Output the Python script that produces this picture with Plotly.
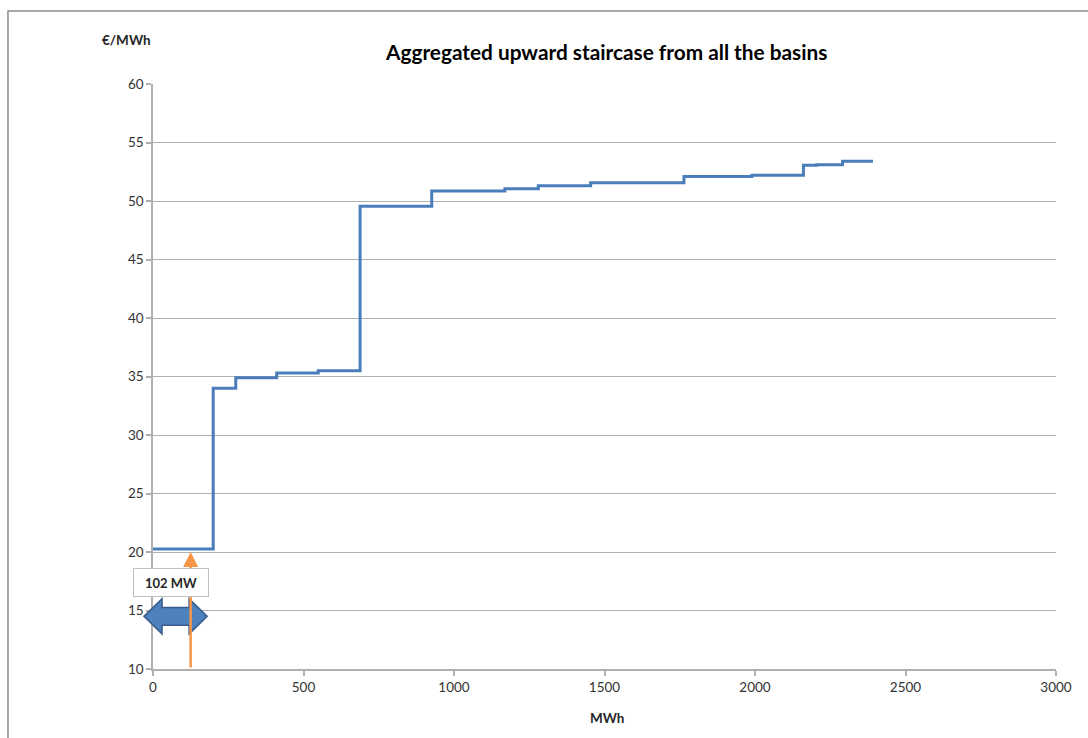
import plotly.graph_objects as go

# Staircase breakpoints (MWh) and the price of each step (€/MWh)
mwh = [0, 200, 275, 411, 549, 688, 926, 1169, 1280, 1454, 1764, 1990, 2161, 2205, 2291, 2392]
price = [20.25, 34.0, 34.9, 35.3, 35.5, 49.55, 50.85, 51.05, 51.3, 51.55, 52.1, 52.2, 53.05, 53.1, 53.4, 53.4]

x_ticks = [0, 500, 1000, 1500, 2000, 2500, 3000]
y_ticks = [10, 15, 20, 25, 30, 35, 40, 45, 50, 55, 60]

X_RANGE = [0, 3000]
Y_RANGE = [10, 60]

# Callout: requested volume marker and its label
marker_mwh = 125
marker_label = "102 MW"
label_pos = (60, 17.4)

# Double-headed block arrow (data units)
arrow_x = (-30, 180)
arrow_head = 60
arrow_y = 14.5
arrow_half_head = 1.5
arrow_half_shaft = 0.75

BLUE = "#4A7EBB"
ORANGE = "#F79646"
GRID = "#B0B0B0"
FONT = "Lato, 'Open Sans', sans-serif"


def to_paper(x, y):
    px = (x - X_RANGE[0]) / (X_RANGE[1] - X_RANGE[0])
    py = (y - Y_RANGE[0]) / (Y_RANGE[1] - Y_RANGE[0])
    return px, py


fig = go.Figure()
fig.add_trace(go.Scatter(
    x=mwh, y=price, mode="lines", line=dict(color=BLUE, width=3, shape="hv"),
    hoverinfo="x+y", showlegend=False,
))

# Block arrow outline built from the data-unit geometry
xl, xr = arrow_x
pts = [
    (xl, arrow_y),
    (xl + arrow_head, arrow_y + arrow_half_head),
    (xl + arrow_head, arrow_y + arrow_half_shaft),
    (xr - arrow_head, arrow_y + arrow_half_shaft),
    (xr - arrow_head, arrow_y + arrow_half_head),
    (xr, arrow_y),
    (xr - arrow_head, arrow_y - arrow_half_head),
    (xr - arrow_head, arrow_y - arrow_half_shaft),
    (xl + arrow_head, arrow_y - arrow_half_shaft),
    (xl + arrow_head, arrow_y - arrow_half_head),
]
path = "M " + " L ".join("%.5f,%.5f" % to_paper(px, py) for px, py in pts) + " Z"

shapes = [
    # outer chart frame
    dict(type="rect", xref="paper", yref="paper", x0=-0.1606, x1=1.06, y0=-0.16, y1=1.1248,
         line=dict(color="#8C8C8C", width=1.5), fillcolor="rgba(0,0,0,0)", layer="below"),
    dict(type="path", xref="paper", yref="paper", path=path,
         fillcolor="#4F81BD", line=dict(color="#385D8A", width=1.5)),
]

annotations = [
    dict(x=marker_mwh, y=20, ax=marker_mwh, ay=Y_RANGE[0], xref="x", yref="y",
         axref="x", ayref="y", text="", showarrow=True, arrowhead=2, arrowsize=1.2,
         arrowwidth=2.5, arrowcolor=ORANGE),
    dict(x=label_pos[0], y=label_pos[1], xref="x", yref="y", text="<b>" + marker_label + "</b>",
         showarrow=False, font=dict(family=FONT, size=13, color="#262626"),
         bgcolor="white", bordercolor="#BFBFBF", borderwidth=1, width=72, height=25),
    dict(x=-0.029, y=1.075, xref="paper", yref="paper", text="<b>€/MWh</b>", showarrow=False,
         font=dict(family=FONT, size=13.5, color="#262626"), xanchor="center", yanchor="middle"),
    dict(x=0.503, y=-0.083, xref="paper", yref="paper", text="<b>MWh</b>", showarrow=False,
         font=dict(family=FONT, size=13.5, color="#262626"), xanchor="center", yanchor="middle"),
    dict(x=0.502, y=1.056, xref="paper", yref="paper",
         text="<b>Aggregated upward staircase from all the basins</b>", showarrow=False,
         font=dict(family=FONT, size=20.8, color="#000000"), xanchor="center", yanchor="middle"),
]

fig.update_layout(
    width=1088, height=738,
    margin=dict(l=153, r=32, t=84, b=69),
    paper_bgcolor="white", plot_bgcolor="white",
    shapes=shapes, annotations=annotations,
    font=dict(family=FONT, size=13.5, color="#333333"),
    xaxis=dict(range=X_RANGE, tickvals=x_ticks, showgrid=False, zeroline=False,
               showline=True, linecolor=GRID, linewidth=1.5, ticks="outside",
               tickcolor=GRID, ticklen=5, tickwidth=1.5, fixedrange=True),
    yaxis=dict(range=Y_RANGE, tickvals=y_ticks, showgrid=True, gridcolor=GRID, gridwidth=1.2,
               zeroline=False, showline=True, linecolor=GRID, linewidth=1.5,
               ticks="outside", tickcolor=GRID, ticklen=5, tickwidth=1.5, fixedrange=True),
)

fig.write_html("out.html")
